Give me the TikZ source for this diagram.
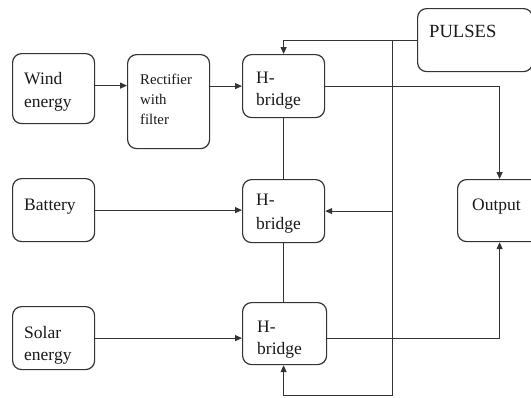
\documentclass[tikz,border=0pt]{standalone}
\usepackage{fontspec}
\setmainfont{Liberation Serif}
\newfontfamily\pfont{Liberation Serif}
\usetikzlibrary{arrows.meta}
\newcommand\mylines[1]{\begin{tabular}[t]{@{}l@{}}#1\end{tabular}}
\tikzset{
  box/.style={draw=black!80, line width=1.2pt, rounded corners=9pt, inner sep=0pt, anchor=north west},
  txt/.style={anchor=base west, inner sep=0pt, text=black!90, font=\pfont\fontsize{17.5}{23}\selectfont},
  arr/.style={draw=black!80, line width=1.1pt, -{Triangle[length=7pt,width=6pt]}},
  ln/.style={draw=black!80, line width=1.1pt}
}
\begin{document}
\begin{tikzpicture}[x=1pt,y=-1pt]
\useasboundingbox (0,0) rectangle (531,397);
% boxes
\node[box, minimum width=82pt, minimum height=70pt] (wind) at (12,53) {};
\node[box, minimum width=82pt, minimum height=94pt] (rect) at (127,54) {};
\node[box, minimum width=82pt, minimum height=63pt] (hb1) at (242,54) {};
\node[box, minimum width=82pt, minimum height=63pt] (bat) at (12,178) {};
\node[box, minimum width=82pt, minimum height=63pt] (hb2) at (242,179) {};
\node[box, minimum width=82pt, minimum height=63pt] (sol) at (12,306) {};
\node[box, minimum width=84pt, minimum height=62pt] (hb3) at (242,302) {};
\node[box, minimum width=115pt, minimum height=63pt] (pulses) at (417,8) {};
\node[box, minimum width=84pt, minimum height=62pt] (out) at (457,179) {};
% texts
\node[txt] (twind) at (24,84) {\mylines{Wind\\energy}};
\node[txt, font=\pfont\fontsize{14.8}{20}\selectfont] (trect) at (140,84) {\mylines{Rectifier\\with\\filter}};
\node[txt, font=\pfont\fontsize{17.5}{22}\selectfont] (thb1) at (256,83) {\mylines{H-\\bridge}};
\node[txt] (tbat) at (24,210) {Battery};
\node[txt, font=\pfont\fontsize{17.5}{24}\selectfont] (thb2) at (256,205) {\mylines{H-\\bridge}};
\node[txt, font=\pfont\fontsize{17.5}{22}\selectfont] (tsol) at (24,338) {\mylines{Solar\\energy}};
\node[txt, font=\pfont\fontsize{17.5}{22}\selectfont] (thb3) at (257,332) {\mylines{H-\\bridge}};
\node[txt, font=\pfont\fontsize{18.6}{22}\selectfont] (tpul) at (429,37) {PULSES};
\node[txt] (tout) at (472,210) {Output};
% connectors
\coordinate (bot) at (392.5,395.5);
\draw[arr] ([yshift=3pt]wind.east) -- ([yshift=3pt]wind.east -| rect.west);
\draw[arr] (rect.east |- hb1.west) -- (hb1.west);
\draw[arr] (bat.east) -- (bat.east -| hb2.west);
\draw[arr] (sol.east) -- (sol.east -| hb3.west);
\draw[arr] (pulses.west) -| (hb1.north);
\draw[arr] (pulses.west -| bot) -- (bot) -| (hb1.north |- hb3.south);
\draw[arr] (hb2.east -| bot) -- (hb2.east);
\draw[ln] (hb1.south) -- (hb2.north);
\draw[ln] (hb2.south) -- (hb2.south |- hb3.north);
\draw[arr] (hb1.east) -| (out.north);
\draw[arr] ([yshift=-5pt]hb3.east) -| (out.south);
\end{tikzpicture}
\end{document}
